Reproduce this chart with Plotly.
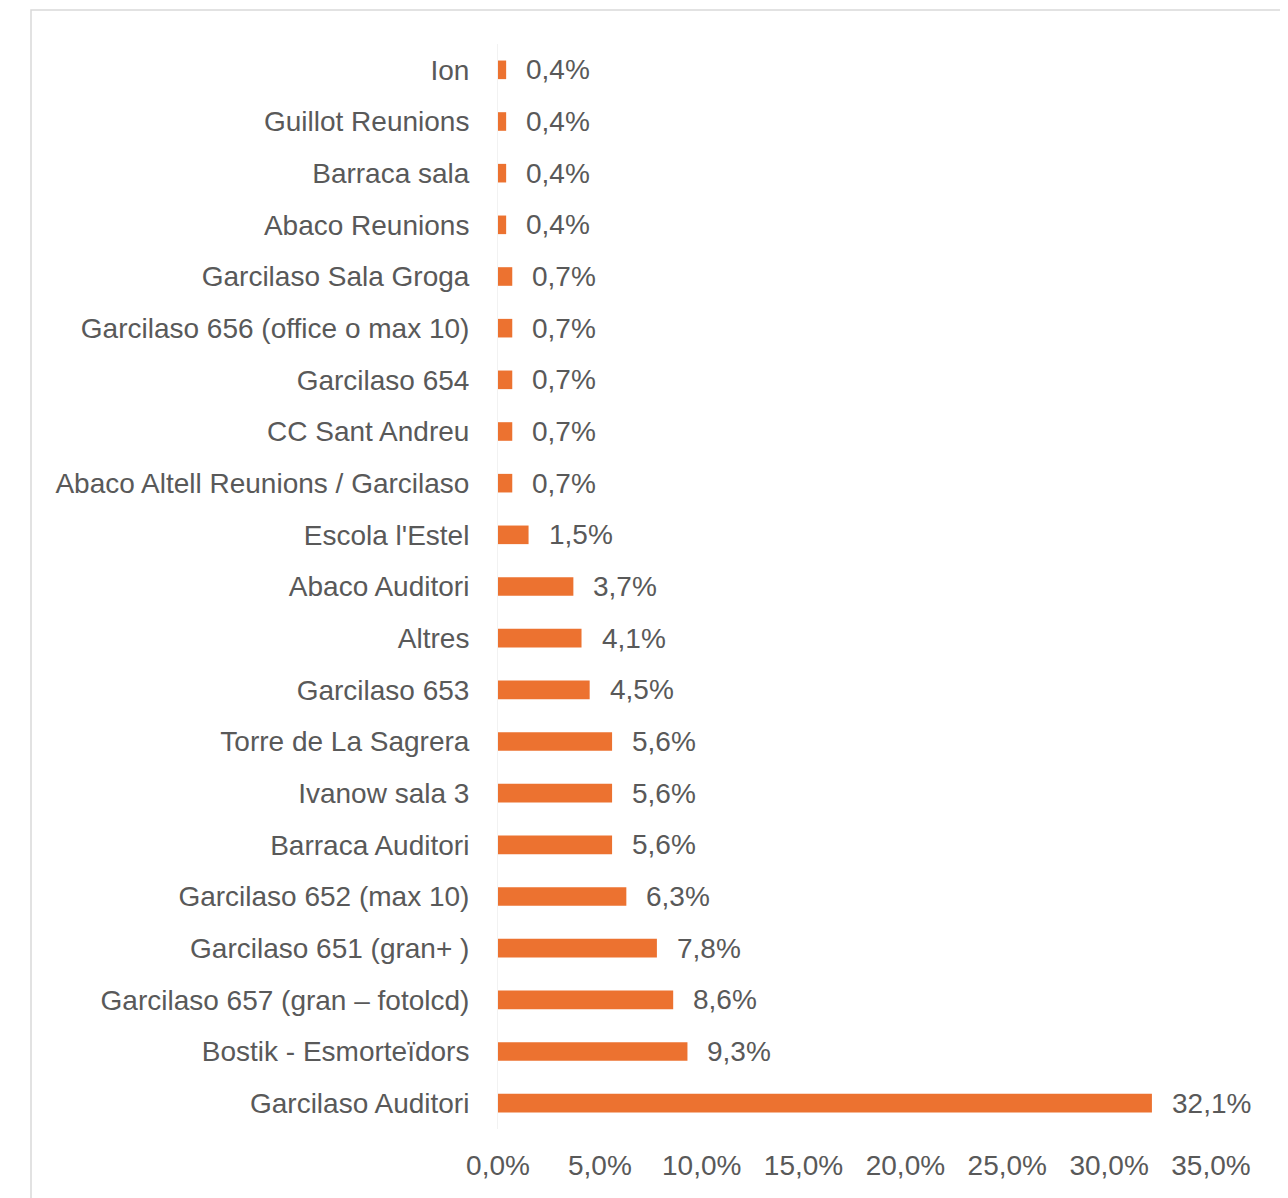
import plotly.graph_objects as go

categories = [
    "Ion",
    "Guillot Reunions",
    "Barraca sala",
    "Abaco Reunions",
    "Garcilaso Sala Groga",
    "Garcilaso 656 (office o max 10)",
    "Garcilaso 654",
    "CC Sant Andreu",
    "Abaco Altell Reunions / Garcilaso",
    "Escola l'Estel",
    "Abaco Auditori",
    "Altres",
    "Garcilaso 653",
    "Torre de La Sagrera",
    "Ivanow sala 3",
    "Barraca Auditori",
    "Garcilaso 652 (max 10)",
    "Garcilaso 651 (gran+ )",
    "Garcilaso 657 (gran – fotolcd)",
    "Bostik - Esmorteïdors",
    "Garcilaso Auditori",
]
values = [0.4, 0.4, 0.4, 0.4, 0.7, 0.7, 0.7, 0.7, 0.7, 1.5, 3.7, 4.1, 4.5,
          5.6, 5.6, 5.6, 6.3, 7.8, 8.6, 9.3, 32.1]
x_ticks = [0, 5, 10, 15, 20, 25, 30, 35]

BAR_COLOR = "#EC7230"
TEXT_COLOR = "#595959"
FONT = "Liberation Sans, Arial, sans-serif"
FS = 28

# page body has an 8px margin
OFF = 8
W, H = 1288 - OFF, 1198 - OFF
L = 498 - OFF
R = W - (1211 - OFF)
T = 44 - OFF
B = H - (1129 - OFF)
pw, ph = W - L - R, H - T - B

def fmt(v):
    return f"{v:.1f}".replace(".", ",") + "%"

fig = go.Figure(go.Bar(
    x=values, y=categories, orientation="h",
    marker=dict(color=BAR_COLOR, line=dict(width=0)),
    width=0.36, hoverinfo="x+y",
))

annotations = [
    dict(x=v, y=c, xref="x", yref="y", text=fmt(v), showarrow=False,
         xanchor="left", yanchor="middle", xshift=18,
         font=dict(family=FONT, size=FS, color=TEXT_COLOR))
    for c, v in zip(categories, values)
]

fig.update_layout(
    width=W, height=H,
    margin=dict(l=L, r=R, t=T, b=B, autoexpand=False),
    paper_bgcolor="white", plot_bgcolor="white",
    showlegend=False,
    font=dict(family=FONT, size=FS, color=TEXT_COLOR),
    annotations=annotations,
    xaxis=dict(
        range=[0, 35], tickvals=x_ticks, ticktext=[fmt(t) for t in x_ticks],
        showgrid=False, zeroline=False, showline=False, ticks="",
        ticklabelstandoff=17, automargin=False,
        tickfont=dict(family=FONT, size=FS, color=TEXT_COLOR),
    ),
    yaxis=dict(
        autorange="reversed", showgrid=False, zeroline=False,
        showline=True, linecolor="#f2f2f2", linewidth=1, ticks="",
        ticklabelstandoff=22, automargin=False,
        tickfont=dict(family=FONT, size=FS, color=TEXT_COLOR),
    ),
    shapes=[dict(
        type="rect", xref="paper", yref="paper",
        x0=(31 - OFF - L) / pw, x1=(1285 - OFF - L) / pw,
        y0=(H - B - 1220) / ph, y1=(H - B - (10 - OFF)) / ph,
        line=dict(color="#d9d9d9", width=1.5), fillcolor="rgba(0,0,0,0)",
        layer="below",
    )],
)

fig.write_html("out.html")
